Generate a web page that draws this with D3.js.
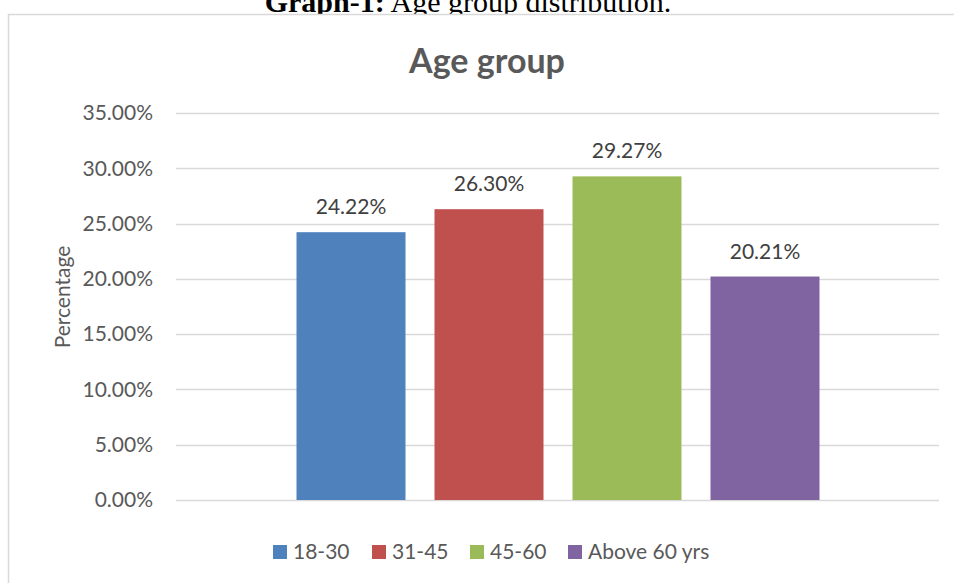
<!DOCTYPE html>
<html>
<head>
<meta charset="utf-8">
<script src="https://cdn.jsdelivr.net/npm/d3@7.9.0/dist/d3.min.js"></script>
<style>
  body { margin: 0; background: #fff; }
  svg { display: block; }
</style>
</head>
<body>
<script>
// ** Data **
const groups = ["18-30", "31-45", "45-60", "Above 60 yrs"];
const values = [24.22, 26.30, 29.27, 20.21];
const colors = ["#4f81bd", "#c0504d", "#9bbb59", "#8064a2"];
const yTicks = [0, 5, 10, 15, 20, 25, 30, 35];

const width = 954, height = 583;
const font = "Lato, 'Open Sans', sans-serif";

const svg = d3.select("body").append("svg")
    .attr("width", width)
    .attr("height", height);

// ** Caption above the chart frame (cut off at the top) **
const cap = svg.append("text")
    .attr("x", 468)
    .attr("y", 12)
    .attr("text-anchor", "middle")
    .style("font-family", "'Liberation Serif', 'Times New Roman', serif")
    .style("font-size", "30px")
    .style("fill", "#000");
cap.append("tspan").style("font-weight", "bold").text("Graph-1:");
cap.append("tspan").text(" Age group distribution.");

// ** Chart frame **
svg.append("rect")
    .attr("x", 8.5)
    .attr("y", 14.5)
    .attr("width", 970)
    .attr("height", 600)
    .attr("fill", "#fff")
    .attr("stroke", "#d9d9d9")
    .attr("stroke-width", 1.5);

// ** Scales **
const plot = { left: 176, right: 939, top: 113, bottom: 500 };

const y = d3.scaleLinear()
    .domain([0, 35])
    .range([plot.bottom, plot.top]);

// one category, four series side by side
const x = d3.scaleBand()
    .domain(groups)
    .range([558 - 2 * 138, 558 + 2 * 138])
    .paddingInner(29 / 138)
    .paddingOuter(29 / 276);

// ** Gridlines **
svg.append("g")
    .selectAll("line")
    .data(yTicks)
    .join("line")
    .attr("x1", plot.left)
    .attr("x2", plot.right)
    .attr("y1", d => Math.round(y(d)) + 0.5)
    .attr("y2", d => Math.round(y(d)) + 0.5)
    .attr("stroke", "#d9d9d9")
    .attr("stroke-width", 1.3);

// ** Y axis labels **
svg.append("g")
    .selectAll("text")
    .data(yTicks)
    .join("text")
    .attr("x", 153)
    .attr("y", d => y(d))
    .attr("dy", "0.35em")
    .attr("text-anchor", "end")
    .style("font-family", font)
    .style("font-size", "21px")
    .style("fill", "#595959")
    .text(d => d.toFixed(2) + "%");

// ** Axis title **
svg.append("text")
    .attr("transform", `translate(70, 297) rotate(-90)`)
    .attr("text-anchor", "middle")
    .style("font-family", font)
    .style("font-size", "21px")
    .style("fill", "#595959")
    .text("Percentage");

// ** Chart title **
svg.append("text")
    .attr("x", 487)
    .attr("y", 73)
    .attr("text-anchor", "middle")
    .style("font-family", font)
    .style("font-size", "34px")
    .style("font-weight", "bold")
    .style("fill", "#595959")
    .text("Age group");

// ** Bars **
svg.append("g")
    .selectAll("rect")
    .data(groups)
    .join("rect")
    .attr("x", d => x(d))
    .attr("y", (d, i) => y(values[i]))
    .attr("width", x.bandwidth())
    .attr("height", (d, i) => y(0) - y(values[i]))
    .attr("fill", (d, i) => colors[i]);

// ** Data labels **
svg.append("g")
    .selectAll("text")
    .data(groups)
    .join("text")
    .attr("x", d => x(d) + x.bandwidth() / 2)
    .attr("y", (d, i) => y(values[i]) - 18)
    .attr("text-anchor", "middle")
    .style("font-family", font)
    .style("font-size", "21px")
    .style("fill", "#404040")
    .text((d, i) => values[i].toFixed(2) + "%");

// ** Legend **
const legendX = [273, 372, 470, 568];
const legend = svg.append("g")
    .selectAll("g")
    .data(groups)
    .join("g")
    .attr("transform", (d, i) => `translate(${legendX[i]}, 545)`);

legend.append("rect")
    .attr("width", 14)
    .attr("height", 14)
    .attr("fill", (d, i) => colors[i]);

legend.append("text")
    .attr("x", 20)
    .attr("y", 14)
    .style("font-family", font)
    .style("font-size", "21px")
    .style("fill", "#595959")
    .text(d => d);
</script>
</body>
</html>
